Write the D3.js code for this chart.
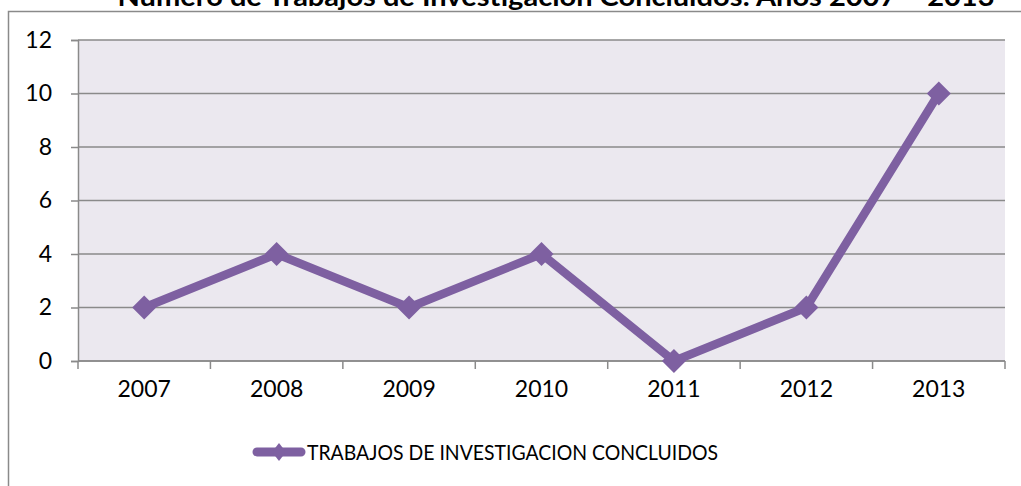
<!DOCTYPE html>
<html>
<head>
<meta charset="utf-8">
<script src="https://cdn.jsdelivr.net/npm/d3@7"></script>
<style>
  body { margin: 0; background: #fff; }
  svg { display: block; font-family: Lato, "Open Sans", sans-serif; }
</style>
</head>
<body>
<div id="chart"></div>
<script>
// chart data
const years = ["2007", "2008", "2009", "2010", "2011", "2012", "2013"];
const trabajos = [2, 4, 2, 4, 0, 2, 10];
const yTicks = [0, 2, 4, 6, 8, 10, 12];
const seriesName = "TRABAJOS DE INVESTIGACION CONCLUIDOS";
const titleText = "Número de Trabajos de Investigación Concluidos: Años 2007 – 2013";

const width = 1021, height = 486;
const lineColor = "#7e60a1";
const gridColor = "#8a8a8a";

const svg = d3.select("#chart").append("svg")
    .attr("width", width)
    .attr("height", height);

// outer chart border
svg.append("rect")
    .attr("x", 8.5).attr("y", 11.5)
    .attr("width", 1040).attr("height", 500)
    .attr("fill", "#fff")
    .attr("stroke", gridColor).attr("stroke-width", 1.5);

// title (partly cut off at top, as in the original)
svg.append("text")
    .attr("x", 556).attr("y", 6)
    .attr("text-anchor", "middle")
    .attr("font-weight", "bold")
    .attr("font-size", 27)
    .attr("textLength", 877)
    .attr("lengthAdjust", "spacingAndGlyphs")
    .text(titleText);

const plot = { left: 78, right: 1005, top: 40, bottom: 361 };

const x = d3.scaleBand()
    .domain(years)
    .range([plot.left, plot.right]);

const y = d3.scaleLinear()
    .domain([0, 12])
    .range([plot.bottom, plot.top]);

// plot background
svg.append("rect")
    .attr("x", plot.left).attr("y", plot.top)
    .attr("width", plot.right - plot.left)
    .attr("height", plot.bottom - plot.top)
    .attr("fill", "#ebe8ef");

// gridlines
svg.append("g")
    .selectAll("line")
    .data(yTicks)
    .join("line")
    .attr("x1", plot.left).attr("x2", plot.right)
    .attr("y1", d => y(d)).attr("y2", d => y(d))
    .attr("stroke", gridColor).attr("stroke-width", 1.5);

// y axis
const yAxis = svg.append("g")
    .attr("transform", `translate(${plot.left},0)`)
    .call(d3.axisLeft(y).tickValues(yTicks).tickSize(7).tickPadding(19));
yAxis.select(".domain").attr("stroke", gridColor).attr("stroke-width", 1.5);
yAxis.selectAll(".tick line").attr("stroke", gridColor).attr("stroke-width", 1.5);
yAxis.selectAll(".tick text")
    .attr("font-family", "Lato, sans-serif")
    .attr("font-size", 23)
    .attr("fill", "#000");

// x axis: ticks between categories
const xAxis = svg.append("g");
xAxis.append("line")
    .attr("x1", plot.left).attr("x2", plot.right)
    .attr("y1", plot.bottom).attr("y2", plot.bottom)
    .attr("stroke", gridColor).attr("stroke-width", 1.5);
const bounds = years.map(d => x(d)).concat([x(years[years.length - 1]) + x.bandwidth()]);
xAxis.selectAll("line.tk")
    .data(bounds)
    .join("line")
    .attr("class", "tk")
    .attr("x1", d => d).attr("x2", d => d)
    .attr("y1", plot.bottom).attr("y2", plot.bottom + 8)
    .attr("stroke", gridColor).attr("stroke-width", 1.5);
xAxis.selectAll("text")
    .data(years)
    .join("text")
    .attr("x", d => x(d) + x.bandwidth() / 2)
    .attr("y", 397)
    .attr("text-anchor", "middle")
    .attr("font-size", 23)
    .text(d => d);

// series line
const pts = years.map((d, i) => [x(d) + x.bandwidth() / 2, y(trabajos[i])]);
svg.append("path")
    .attr("d", d3.line()(pts))
    .attr("fill", "none")
    .attr("stroke", lineColor)
    .attr("stroke-width", 8.5)
    .attr("stroke-linejoin", "round");

const diamond = (cx, cy, rx, ry) => `M${cx},${cy - ry}L${cx + rx},${cy}L${cx},${cy + ry}L${cx - rx},${cy}Z`;
svg.append("g")
    .selectAll("path")
    .data(pts)
    .join("path")
    .attr("d", d => diamond(d[0], d[1], 12, 12))
    .attr("fill", lineColor);

// legend
const lg = svg.append("g");
lg.append("line")
    .attr("x1", 257).attr("x2", 301)
    .attr("y1", 452).attr("y2", 452)
    .attr("stroke", lineColor).attr("stroke-width", 9)
    .attr("stroke-linecap", "round");
lg.append("path")
    .attr("d", diamond(279, 452, 7, 9))
    .attr("fill", lineColor);
lg.append("text")
    .attr("x", 307).attr("y", 460)
    .attr("font-size", 21)
    .attr("textLength", 411)
    .attr("lengthAdjust", "spacingAndGlyphs")
    .text(seriesName);
</script>
</body>
</html>
